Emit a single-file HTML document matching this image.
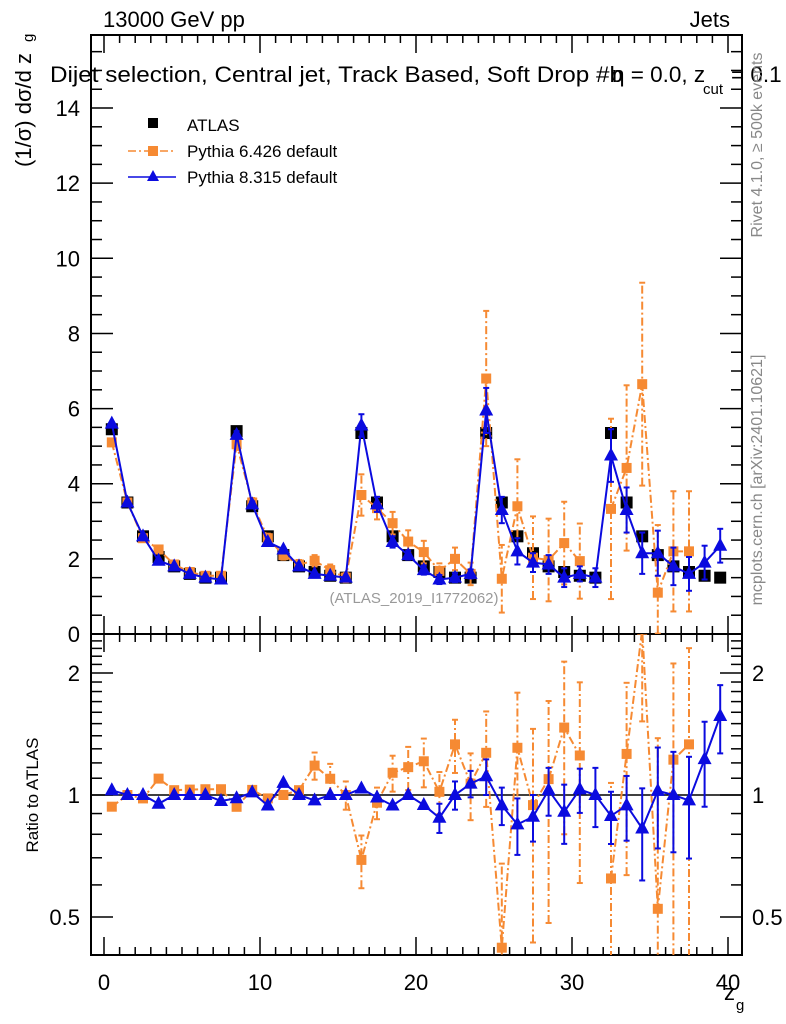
<!DOCTYPE html>
<html><head><meta charset="utf-8"><style>
html,body{margin:0;background:#fff;overflow:hidden;width:786px;height:1024px;}
svg{display:block;font-family:"Liberation Sans",sans-serif;}
</style></head><body>
<svg id="chart" width="786" height="1024" xmlns="http://www.w3.org/2000/svg"></svg>
<script>
const atlas=[5.45,3.5,2.6,2.05,1.8,1.6,1.5,1.5,5.4,3.4,2.6,2.1,1.8,1.65,1.55,1.5,5.35,3.5,2.6,2.1,1.8,1.65,1.5,1.5,5.35,3.5,2.6,2.15,1.8,1.65,1.55,1.5,5.35,3.5,2.6,2.1,1.8,1.65,1.55,1.5];
const p8=[5.6,3.5,2.6,1.95,1.8,1.6,1.5,1.45,5.3,3.45,2.45,2.25,1.8,1.6,1.55,1.5,5.55,3.45,2.45,2.1,1.7,1.45,1.5,1.6,5.95,3.3,2.2,1.9,1.85,1.5,1.6,1.5,4.75,3.3,2.15,2.15,1.8,1.6,1.9,2.35];
const p8err=[0.06,0.05,0.05,0.05,0.05,0.05,0.05,0.05,0.1,0.08,0.06,0.06,0.06,0.06,0.06,0.06,0.3,0.2,0.15,0.12,0.12,0.12,0.12,0.12,0.6,0.35,0.35,0.25,0.25,0.25,0.2,0.25,0.7,0.6,0.55,0.6,0.5,0.45,0.45,0.45];
const p6=[5.1,3.5,2.55,2.25,1.85,1.65,1.55,1.55,5.05,3.5,2.55,2.1,1.85,1.95,1.7,1.5,3.7,3.35,2.95,2.46,2.18,1.68,2.0,1.6,6.8,1.47,3.4,2.03,1.97,2.42,1.94,null,3.33,4.42,6.65,1.1,2.2,2.2,null,null];
const p6err=[0.1,0.08,0.08,0.1,0.1,0.1,0.1,0.1,0.15,0.12,0.12,0.12,0.12,0.15,0.15,0.12,0.55,0.3,0.3,0.3,0.3,0.2,0.3,0.3,1.8,0.9,1.25,1.1,1.1,1.1,1.0,0,2.4,2.2,2.7,1.8,1.6,1.6,0,0];
const xTicks=[0,10,20,30,40];
const yTicks=[0,2,4,6,8,10,12,14];
const rTicks=[0.5,1,2];

const NS="http://www.w3.org/2000/svg";
const svg=document.getElementById('chart');
const L=91,R=742,T=35,MB=634,RB=955;
const X=v=>104+v*15.6;
const Y=v=>MB-v*37.57;
const RY=v=>795-Math.log10(v)*405.3;
function el(t,a,p){const e=document.createElementNS(NS,t);for(const k in a)e.setAttribute(k,a[k]);(p||svg).appendChild(e);return e;}
function txt(s,x,y,a,name){const e=el('text',Object.assign({x:x,y:y,'font-size':20},a||{}));e.textContent=s;

return e;}

const f1=el('rect',{x:L,y:T,width:R-L,height:MB-T,fill:'none',stroke:'#000','stroke-width':2});


const f2=el('rect',{x:L,y:MB,width:R-L,height:RB-MB,fill:'none',stroke:'#000','stroke-width':2});



for(let v=0;v<=41;v++){const major=v%10==0;const len=major?18:8;const xx=X(v);if(xx>R)break;
[[MB,-1],[T,1],[RB,-1],[MB,1]].forEach(([y0,d])=>el('line',{x1:xx,x2:xx,y1:y0,y2:y0+d*len,stroke:'#000','stroke-width':1.5}));
}
xTicks.forEach(v=>{txt(String(v),X(v),990,{'text-anchor':'middle','font-size':22},'x-tick-label');});
for(let v=0;v<=15.5;v+=0.5){const yy=Y(v);if(yy<T)break;const major=Math.abs(v%2)<1e-6;const len=major?22:11;
el('line',{x1:L,x2:L+len,y1:yy,y2:yy,stroke:'#000','stroke-width':1.5});el('line',{x1:R,x2:R-len,y1:yy,y2:yy,stroke:'#000','stroke-width':1.5});}
yTicks.forEach(v=>txt(String(v),80,Y(v)+8,{'text-anchor':'end','font-size':22},'y-tick-label'));
const rminor=[0.4,0.5,0.6,0.7,0.8,0.9,1,1.1,1.2,1.3,1.4,1.5,1.6,1.7,1.8,1.9,2,2.1,2.2,2.3,2.4];
rminor.forEach(v=>{const yy=RY(v);if(yy<MB||yy>RB)return;const major=rTicks.includes(v);const len=major?22:11;
el('line',{x1:L,x2:L+len,y1:yy,y2:yy,stroke:'#000','stroke-width':1.5});el('line',{x1:R,x2:R-len,y1:yy,y2:yy,stroke:'#000','stroke-width':1.5});});
rTicks.forEach(v=>{txt(String(v),80,RY(v)+8,{'text-anchor':'end','font-size':22},'ratio-tick-label');txt(String(v),752,RY(v)+8,{'font-size':22},'ratio-tick-label-right');});
el('line',{x1:L,x2:R,y1:RY(1),y2:RY(1),stroke:'#000','stroke-width':1.5});

const defs=el('defs',{});
const c1=el('clipPath',{id:'cm'},defs);el('rect',{x:L,y:T,width:R-L,height:MB-T},c1);
const c2=el('clipPath',{id:'cr'},defs);el('rect',{x:L,y:MB,width:R-L,height:RB-MB},c2);
const gm=el('g',{'clip-path':'url(#cm)'});


const gr=el('g',{'clip-path':'url(#cr)'});



function series(vals,errs,yf,ratio,color,dash,marker,g,name){
  let d='';let pen=false;
  vals.forEach((v,i)=>{if(v==null){pen=false;return;}const val=ratio?v/atlas[i]:v;const xx=X(i+0.5),yy=yf(val);d+=(pen?'L':'M')+xx+' '+yy;pen=true;});
  const p=el('path',{d:d,fill:'none',stroke:color,'stroke-width':2,'stroke-dasharray':dash||'none'},g);
  
  
  vals.forEach((v,i)=>{if(v==null)return;const xx=X(i+0.5);
    const val=ratio?v/atlas[i]:v;const e=ratio?errs[i]/atlas[i]:errs[i];
    const lo=Math.max(val-e,0.01),hi=val+e;
    if(e>0.07){el('line',{x1:xx,x2:xx,y1:yf(lo),y2:yf(hi),stroke:color,'stroke-width':2,'stroke-dasharray':dash||'none'},g);
      el('line',{x1:xx-3,x2:xx+3,y1:yf(lo),y2:yf(lo),stroke:color,'stroke-width':2},g);
      el('line',{x1:xx-3,x2:xx+3,y1:yf(hi),y2:yf(hi),stroke:color,'stroke-width':2},g);}
    const yy=yf(val);let m;
    if(marker=='tri')m=el('polygon',{points:`${xx},${yy-8} ${xx-7},${yy+5} ${xx+7},${yy+5}`,fill:color},g);
    else m=el('rect',{x:xx-5,y:yy-5,width:10,height:10,fill:color},g);
    
    
  });
}
atlas.forEach((v,i)=>{const m=el('rect',{x:X(i+0.5)-6,y:Y(v)-6,width:12,height:12,fill:'#000'},gm);

});
series(p6,p6err,Y,false,'#f68a33','8,3,2,3','sq',gm,'pythia6');
series(p8,p8err,Y,false,'#0b0bdf',null,'tri',gm,'pythia8');
series(p6,p6err,RY,true,'#f68a33','8,3,2,3','sq',gr,'pythia6-ratio');
series(p8,p8err,RY,true,'#0b0bdf',null,'tri',gr,'pythia8-ratio');

txt('13000 GeV pp',103,27,{'font-size':22},'energy-label');
txt('Jets',730,27,{'text-anchor':'end','font-size':22},'process-label');
txt('Dijet selection, Central jet, Track Based, Soft Drop #b',50,82,{'font-size':22.5,textLength:573,lengthAdjust:'spacingAndGlyphs'},'plot-title');
txt('η = 0.0, z',612,82,{'font-size':22.5},'title-eta');
txt('cut',703,94,{'font-size':15},'title-subscript');
txt('= 0.1',731,82,{'font-size':22.5},'title-end');
txt('(ATLAS_2019_I1772062)',414,603,{'text-anchor':'middle','font-size':15,fill:'#999'},'analysis-id');
txt('(1/σ) dσ/d z',0,0,{'font-size':22,transform:'translate(31,110) rotate(-90)','text-anchor':'middle'},'y-axis-title');
txt('g',0,0,{'font-size':15,transform:'translate(33,42) rotate(-90)'},'y-axis-title-sub');
txt('Ratio to ATLAS',0,0,{'font-size':17,transform:'translate(38,795) rotate(-90)','text-anchor':'middle'},'ratio-axis-title');
txt('z',724,1000,{'font-size':22},'x-axis-title');
txt('g',736,1010,{'font-size':15},'x-axis-title-sub');
txt('Rivet 4.1.0, ≥ 500k events',0,0,{'font-size':16,fill:'#888',transform:'translate(762,145) rotate(-90)','text-anchor':'middle'},'rivet-label');
txt('mcplots.cern.ch [arXiv:2401.10621]',0,0,{'font-size':16,fill:'#888',transform:'translate(762,480) rotate(-90)','text-anchor':'middle'},'mcplots-label');
const lg=el('g',{});


el('rect',{x:148,y:118,width:10,height:10,fill:'#000'},lg);
txt('ATLAS',187,131,{'font-size':17},'legend-atlas');
el('line',{x1:128,x2:176,y1:151,y2:151,stroke:'#f68a33','stroke-width':1.5,'stroke-dasharray':'8,3,2,3'},lg);
el('rect',{x:148,y:146,width:10,height:10,fill:'#f68a33'},lg);
txt('Pythia 6.426 default',187,157,{'font-size':17},'legend-pythia6');
el('line',{x1:128,x2:176,y1:177,y2:177,stroke:'#0b0bdf','stroke-width':1.5},lg);
el('polygon',{points:'153,170 147,181 159,181',fill:'#0b0bdf'},lg);
txt('Pythia 8.315 default',187,183,{'font-size':17},'legend-pythia8');
</script>
</body></html>
